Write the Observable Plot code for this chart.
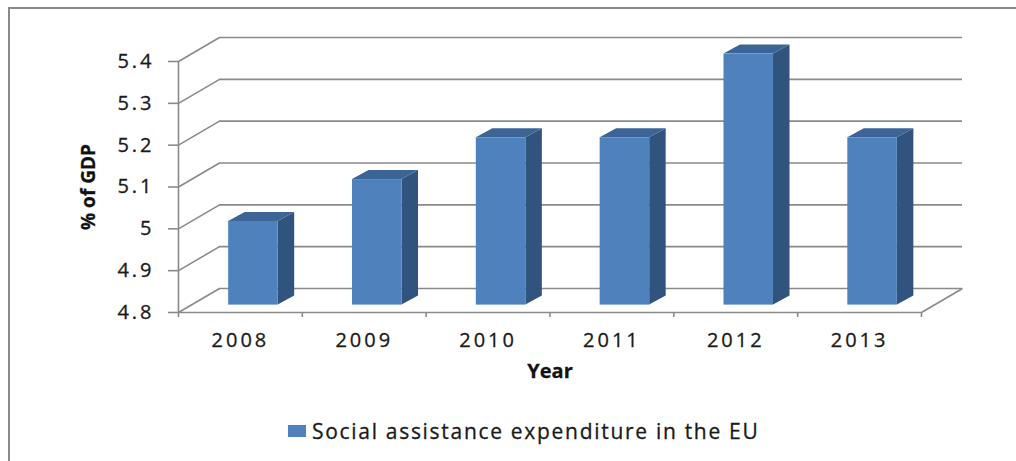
<!DOCTYPE html>
<html><head><meta charset="utf-8">
<script src="https://cdn.jsdelivr.net/npm/d3@7"></script>
<script src="https://cdn.jsdelivr.net/npm/@observablehq/plot@0.6"></script>
<style>
html,body{margin:0;padding:0;background:#fff;overflow:hidden;}
#wrap{position:relative;width:1016px;height:461px;overflow:hidden;background:#fff;}
#border{position:absolute;left:8px;top:7px;width:1100px;height:600px;border:2px solid #8a8a8a;box-sizing:border-box;}
#chart{position:absolute;left:0;top:0;}
#legend{position:absolute;left:288px;top:418px;height:26px;display:flex;align-items:center;font-family:"Open Sans",sans-serif;font-size:21px;letter-spacing:1.7px;color:#1a1a1a;white-space:nowrap;-webkit-text-stroke:0.3px #1a1a1a;}
#legend .sw{display:inline-block;width:18px;height:12px;background:#4F81BD;margin-right:6px;}
svg text{stroke:currentColor;stroke-width:0.3px;}
g[aria-label="x-axis tick label"] text, g[aria-label="y-axis tick label"] text{letter-spacing:3px;}
</style></head>
<body>
<div id="wrap"><div id="border"></div><div id="chart"></div><div id="legend"></div></div>
<script>
const years = ["2008", "2009", "2010", "2011", "2012", "2013"];
const values = [5.0, 5.1, 5.2, 5.2, 5.4, 5.2];
const yTicks = [4.8, 4.9, 5, 5.1, 5.2, 5.3, 5.4];
const seriesName = "Social assistance expenditure in the EU";
const yTitle = "% of GDP";
const xTitle = "Year";

const W = 1016, H = 461;
const mL = 178, mR = 95, mT = 61, mB = 149;
const yMin = 4.8, yMax = 5.4;
const xLo = -0.5, xHi = years.length - 0.5;
// pixel -> data conversion for the 3D offsets
const kx = (xHi - xLo) / (W - mL - mR);
const ky = (yMax - yMin) / (H - mT - mB);
const DX = 41 * kx, DY = 24 * ky;          // wall depth
const FDX = 13 * kx, FDY = 7.4 * ky;       // bar front offset into depth
const BDX = 16.5 * kx, BDY = 9 * ky;       // bar depth
const HALF = 0.2;

const bars = years.map((year, i) => ({year, i, value: values[i]}));
const sidePts = bars.flatMap(d => [
  {year: d.year, x: d.i + HALF + FDX, lo: yMin + FDY, hi: d.value + FDY},
  {year: d.year, x: d.i + HALF + FDX + BDX, lo: yMin + FDY + BDY, hi: d.value + FDY + BDY}
]);
const topPts = bars.flatMap(d => [
  {year: d.year, y: d.value + FDY, xl: d.i - HALF + FDX, xr: d.i + HALF + FDX},
  {year: d.year, y: d.value + FDY + BDY, xl: d.i - HALF + FDX + BDX, xr: d.i + HALF + FDX + BDX}
]);
const bounds = d3.range(years.length + 1).map(i => i - 0.5);
const gray = "#8a8a8a";

const chart = Plot.plot({
  width: W, height: H,
  marginLeft: mL, marginRight: mR, marginTop: mT, marginBottom: mB,
  x: {domain: [xLo, xHi]},
  y: {domain: [yMin, yMax]},
  style: {fontFamily: "'Open Sans', sans-serif", fontSize: "20px", color: "#1a1a1a", background: "transparent"},
  marks: [
    Plot.ruleY(yTicks, {y: d => d + DY, x1: xLo + DX, x2: xHi + DX, stroke: gray, strokeWidth: 1.6}),
    Plot.link(yTicks, {x1: xLo, y1: d => d, x2: xLo + DX, y2: d => d + DY, stroke: gray, strokeWidth: 1.6}),
    Plot.link([yMin], {x1: xHi, y1: d => d, x2: xHi + DX, y2: d => d + DY, stroke: gray, strokeWidth: 1.6}),
    Plot.ruleY([yMin], {x1: xLo, x2: xHi, stroke: gray, strokeWidth: 1.6}),
    Plot.ruleX([xLo], {y1: yMin, y2: yMax, stroke: gray, strokeWidth: 1.6}),
    Plot.axisY({ticks: yTicks, tickSize: 10, tickPadding: 14, tickFormat: d => String(d), label: null, stroke: gray, strokeWidth: 1.6, fontSize: 20}),
    Plot.axisX({ticks: bounds, tickSize: 5, tickFormat: () => "", label: null, stroke: gray, strokeWidth: 1.6}),
    Plot.axisX({ticks: d3.range(years.length), tickSize: 0, tickPadding: 20, tickFormat: i => years[i], label: null, fontSize: 20}),
    Plot.areaY(sidePts, {x: "x", y1: "lo", y2: "hi", z: "year", fill: "#31547F"}),
    Plot.areaX(topPts, {y: "y", x1: "xl", x2: "xr", z: "year", fill: "#3C6597"}),
    Plot.rect(bars, {x1: d => d.i - HALF + FDX, x2: d => d.i + HALF + FDX, y1: () => yMin + FDY, y2: d => d.value + FDY, fill: "#4F81BD"}),
    Plot.text([xTitle], {text: d => d, frameAnchor: "bottom", dy: 65, fontWeight: "bold", fontSize: 20, fill: "#111"}),
    Plot.text([yTitle], {text: d => d, frameAnchor: "left", textAnchor: "middle", dx: -90, rotate: -90, fontWeight: "bold", fontSize: 19, fill: "#111"})
  ]
});
document.getElementById("chart").appendChild(chart);
document.getElementById("legend").innerHTML = `<span class="sw"></span><span>${seriesName}</span>`;
</script>
</body></html>
